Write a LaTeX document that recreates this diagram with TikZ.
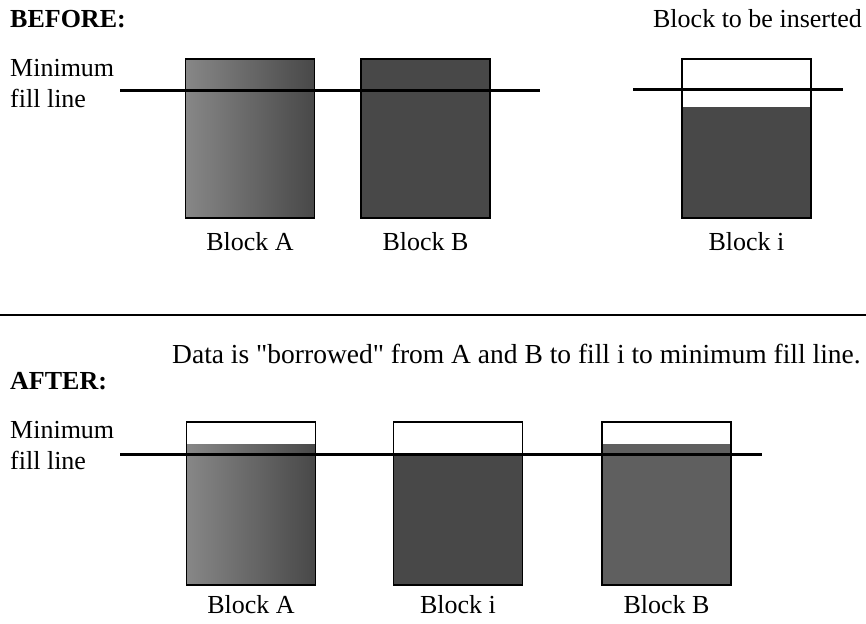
\documentclass[tikz,border=0pt]{standalone}
\usepackage{fontspec}
\setmainfont{Liberation Serif}[Ligatures=TeXOff]
\usepackage{xcolor}
\usetikzlibrary{positioning, calc}

\definecolor{ScanDark}{RGB}{72, 72, 72}
\definecolor{ScanMid}{RGB}{95, 95, 95}
\definecolor{ScanLight}{RGB}{135, 135, 135}

\begin{document}
\begin{tikzpicture}[x=1pt, y=-1pt,
            txt/.style={font=\fontsize{26}{30}\selectfont, inner sep=0pt},
            head/.style={font=\fontsize{26}{30}\selectfont\bfseries, inner sep=0pt},
            box/.style={draw, line width=1.3pt, inner sep=0pt, outer sep=0pt, minimum width=129pt, minimum height=159pt},
            full/.style={box, fill=ScanDark},
            halftone/.style={box, left color=ScanLight, right color=ScanDark},
            rim/.style={line width=1.3pt},
            fillline/.style={line width=3pt},
            divider/.style={line width=1.2pt}
        ]
        \useasboundingbox (0,0) rectangle (866,623);

        % BEFORE: headings and side text
        \node[head, anchor=base west] (before) at (10,28) {BEFORE:};
        \node[txt, anchor=base east] (toins) at (862,28) {Block to be inserted};
        \node[txt, anchor=base west] (min1) at (10,77) {Minimum};
        \node[txt, anchor=base west] (fill1) at (10,107) {fill line};

        % Blocks before the insert
        \node[halftone] (a1) at (250,138.5) {};
        \node[full] (b1) at (425.5,138.5) {};
        \node[box, fill=white] (i1) at (746.5,138.5) {};
        \fill[ScanDark] (i1.south west) rectangle (i1.east |- 0,107);
        \draw[rim] (i1.south west) rectangle (i1.north east);

        % Minimum fill lines
        \coordinate (l1s) at (120,91);
        \coordinate (l1e) at (540,91);
        \draw[fillline] (l1s) -- (l1e);
        \coordinate (l2s) at (633,90);
        \coordinate (l2e) at (843,90);
        \draw[fillline] (l2s) -- (l2e);

        \node[txt, below=14pt of a1] (la1) {Block A};
        \node[txt, below=14pt of b1] (lb1) {Block B};
        \node[txt, below=14pt of i1] (li1) {Block i};

        % Divider
        \coordinate (dl) at (0,315);
        \coordinate (dr) at (866,315);
        \draw[divider] (dl) -- (dr);

        % AFTER: headings and side text
        \node[txt, anchor=base west, font=\fontsize{27.5}{30}\selectfont] (note) at (172,363) {Data is "borrowed" from A and B to fill i to minimum fill line.};
        \node[head, anchor=base west] (after) at (10,389) {AFTER:};
        \node[txt, anchor=base west] (min2) at (10,438) {Minimum};
        \node[txt, anchor=base west] (fill2) at (10,469) {fill line};

        % Blocks after the insert
        \node[box, minimum height=163pt, fill=white] (a2) at (251,503.5) {};
        \shade[left color=ScanLight, right color=ScanDark] (a2.south west) rectangle (a2.east |- 0,444);
        \draw[rim] (a2.south west) rectangle (a2.north east);
        \node[box, minimum height=163pt, fill=white] (i2) at (458,503.5) {};
        \fill[ScanDark] (i2.south west) rectangle (i2.east |- 0,454);
        \draw[rim] (i2.south west) rectangle (i2.north east);
        \node[box, minimum height=163pt, fill=white] (b2) at (666.5,503.5) {};
        \fill[ScanMid] (b2.south west) rectangle (b2.east |- 0,444);
        \draw[rim] (b2.south west) rectangle (b2.north east);

        \coordinate (l3s) at (120,454);
        \coordinate (l3e) at (762,454);
        \draw[fillline] (l3s) -- (l3e);

        \node[txt, below=10pt of a2] (la2) {Block A};
        \node[txt, below=10pt of i2] (li2) {Block i};
        \node[txt, below=10pt of b2] (lb2) {Block B};

        \end{tikzpicture}
\end{document}
